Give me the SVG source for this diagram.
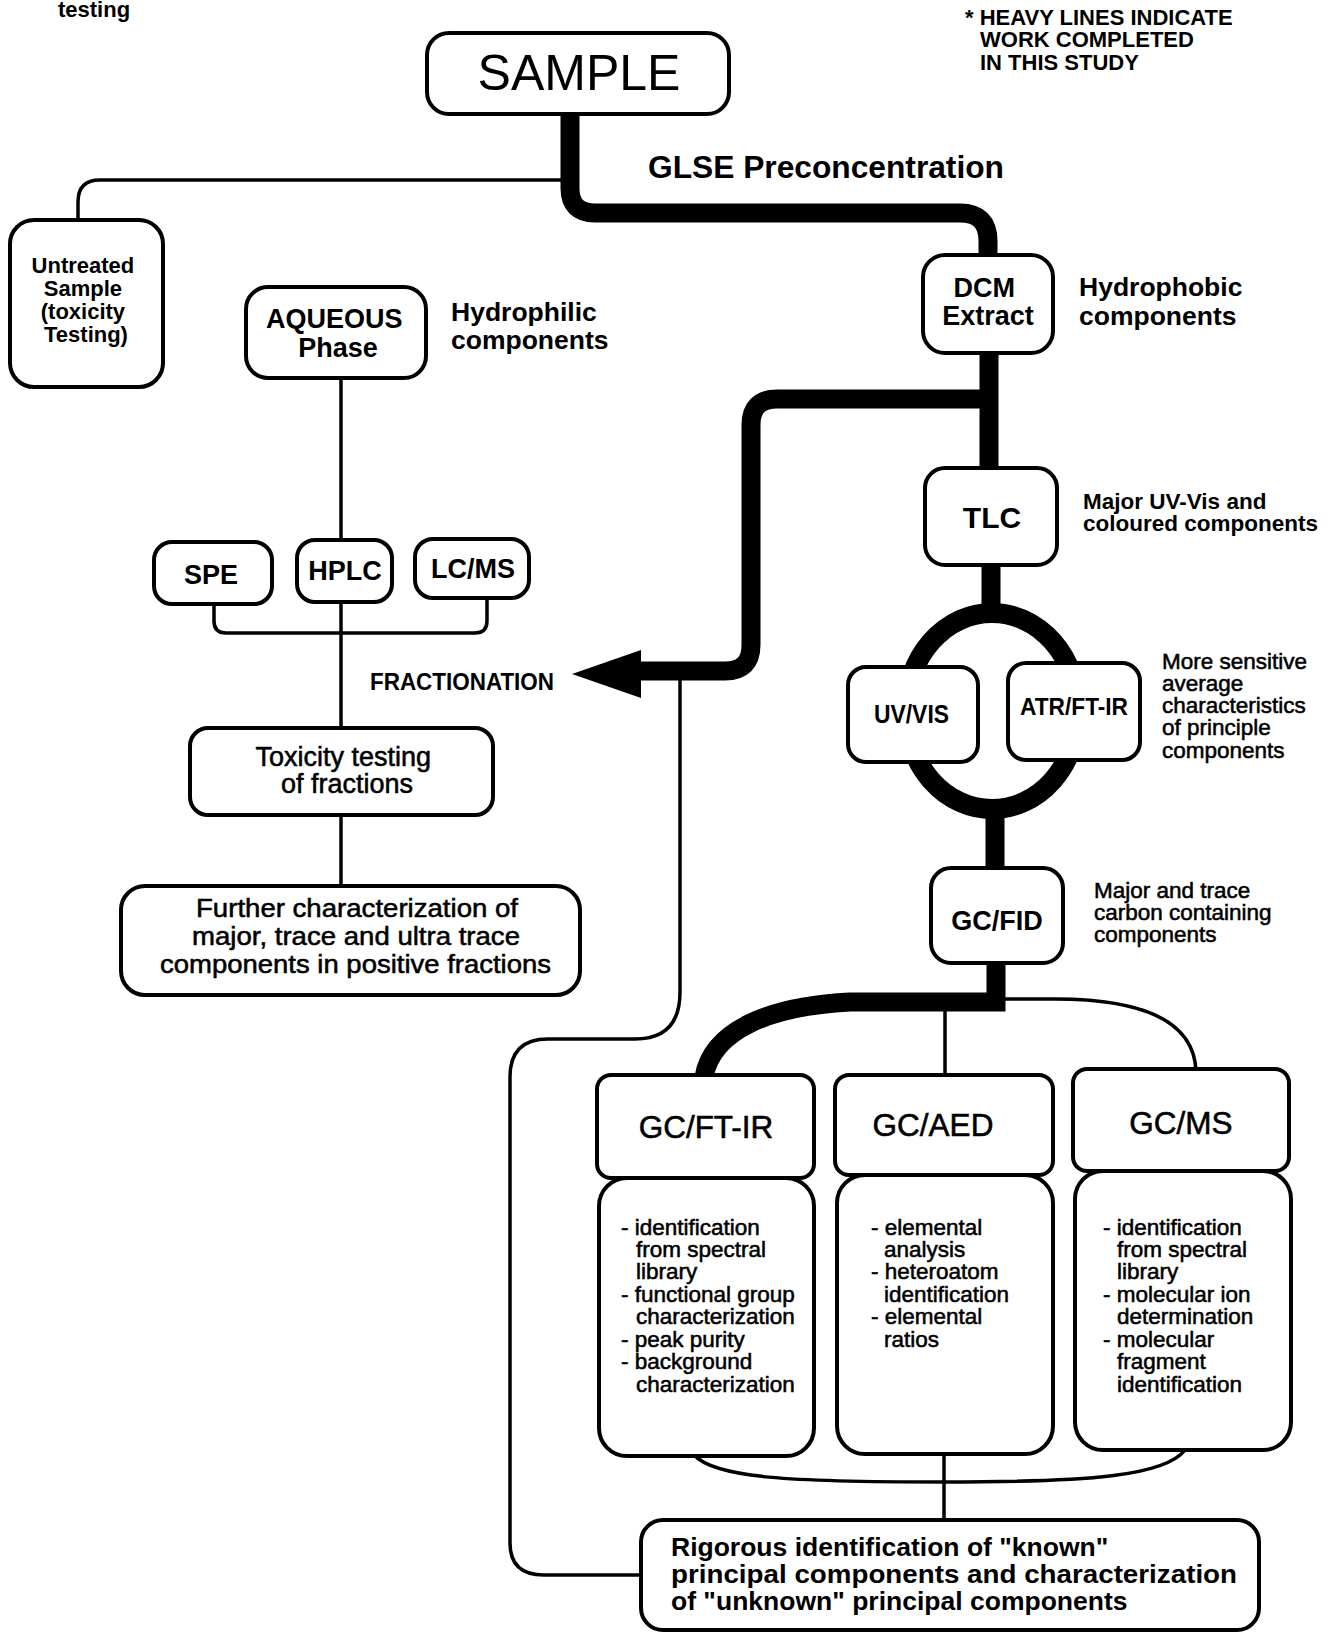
<svg xmlns="http://www.w3.org/2000/svg" width="1336" height="1634" viewBox="0 0 1336 1634">
<style>
text{font-family:"Liberation Sans",Arial,Helvetica,sans-serif;fill:#000}
.b{font-weight:bold}
.m{font-weight:normal;stroke:#000;stroke-width:0.55}
.box{fill:#fff;stroke:#000;stroke-width:4}
.thin{fill:none;stroke:#000;stroke-width:3.5}
.heavy{fill:none;stroke:#000;stroke-width:19}
.c{text-anchor:middle}
</style>
<rect width="1336" height="1634" fill="#fff"/>

<g id="connectors">
  <path class="heavy" d="M 570 110 V 188 Q 570 213 595 213 H 960 Q 988 213 988 241 V 258"/>
  <path class="thin" d="M 572 180 H 100 Q 78 180 78 202 V 222"/>
  <path class="heavy" d="M 989 350 V 472"/>
  <path class="heavy" d="M 990 399 H 777 Q 751 399 751 425 V 645 Q 751 671 725 671 H 632"/>
  <polygon points="572,674 641,650 641,698" fill="#000"/>
  <path class="thin" d="M 680 680 V 992 Q 680 1039 635 1039 H 548 Q 510 1039 510 1077 V 1543 Q 510 1575 544 1575 H 643"/>
  <path class="heavy" d="M 991 562 V 616"/>
  <ellipse cx="992" cy="711" rx="86" ry="98" fill="none" stroke="#000" stroke-width="20"/>
  <path class="heavy" d="M 995 806 V 870"/>
  <path class="heavy" style="stroke-linejoin:miter" d="M 996 962 V 1002 H 850 C 770 1006 712 1030 704 1077"/>
  <path class="thin" d="M 1004 999 H 1055 C 1145 999 1194 1022 1196 1071"/>
  <path class="thin" d="M 945 1010 V 1077"/>
  <path class="thin" d="M 341 376 V 542"/>
  <path class="thin" d="M 341 600 V 730"/>
  <path class="thin" d="M 341 813 V 888"/>
  <path class="thin" d="M 214 602 V 621 Q 214 633 226 633 H 475 Q 487 633 487 621 V 596"/>
  <path class="thin" d="M 694 1455 C 715 1478 790 1482 944 1482 C 1090 1482 1165 1476 1185 1450"/>
  <path class="thin" d="M 944 1452 V 1522"/>
</g>

<g id="labels">
  <text class="b" x="58" y="17" font-size="22">testing</text>
  <text class="b" font-size="22">
    <tspan x="965" y="25">* HEAVY LINES INDICATE</tspan>
    <tspan x="980" y="47">WORK COMPLETED</tspan>
    <tspan x="980" y="70">IN THIS STUDY</tspan>
  </text>
  <text class="b" x="648" y="178" font-size="31" textLength="356" lengthAdjust="spacingAndGlyphs">GLSE Preconcentration</text>
  <text class="b" font-size="26.5">
    <tspan x="451" y="321">Hydrophilic</tspan>
    <tspan x="451" y="349">components</tspan>
  </text>
  <text class="b" font-size="26.5">
    <tspan x="1079" y="296">Hydrophobic</tspan>
    <tspan x="1079" y="325">components</tspan>
  </text>
  <text class="b" font-size="22.5">
    <tspan x="1083" y="509">Major UV-Vis and</tspan>
    <tspan x="1083" y="531">coloured components</tspan>
  </text>
  <text class="m" font-size="22.5">
    <tspan x="1162" y="669">More sensitive</tspan>
    <tspan x="1162" y="691">average</tspan>
    <tspan x="1162" y="713">characteristics</tspan>
    <tspan x="1162" y="735">of principle</tspan>
    <tspan x="1162" y="758">components</tspan>
  </text>
  <text class="m" font-size="22.5">
    <tspan x="1094" y="898">Major and trace</tspan>
    <tspan x="1094" y="920">carbon containing</tspan>
    <tspan x="1094" y="942">components</tspan>
  </text>
  <text class="b" x="370" y="690" font-size="23" textLength="184" lengthAdjust="spacingAndGlyphs">FRACTIONATION</text>
</g>

<g id="sample">
  <rect class="box" x="427" y="33" width="302" height="81" rx="22"/>
  <text class="c" x="579" y="90" font-size="50">SAMPLE</text>
</g>
<g id="untreated">
  <rect class="box" x="10" y="220" width="153" height="167" rx="24"/>
  <text class="b c" font-size="22">
    <tspan x="86" y="273">Untreated</tspan>
    <tspan x="86" y="296">Sample</tspan>
    <tspan x="86" y="319">(toxicity</tspan>
    <tspan x="86" y="342">Testing)</tspan>
  </text>
</g>
<g id="aqueous">
  <rect class="box" x="246" y="287" width="180" height="91" rx="22"/>
  <text class="b c" font-size="27">
    <tspan x="338" y="328">AQUEOUS</tspan>
    <tspan x="338" y="357">Phase</tspan>
  </text>
</g>
<g id="dcm">
  <rect class="box" x="923" y="255" width="130" height="98" rx="22"/>
  <text class="b c" font-size="27">
    <tspan x="988" y="297">DCM</tspan>
    <tspan x="988" y="325">Extract</tspan>
  </text>
</g>
<g id="tlc">
  <rect class="box" x="925" y="468" width="132" height="97" rx="20"/>
  <text class="b c" x="992" y="528" font-size="30">TLC</text>
</g>
<g id="spe">
  <rect class="box" x="154" y="542" width="118" height="62" rx="18"/>
  <text class="b c" x="211" y="584" font-size="27">SPE</text>
</g>
<g id="hplc">
  <rect class="box" x="297" y="540" width="95" height="62" rx="18"/>
  <text class="b c" x="345" y="580" font-size="27">HPLC</text>
</g>
<g id="lcms">
  <rect class="box" x="415" y="539" width="114" height="59" rx="18"/>
  <text class="b c" x="473" y="578" font-size="27">LC/MS</text>
</g>
<g id="uvvis">
  <rect class="box" x="848" y="667" width="130" height="95" rx="18"/>
  <text class="b" x="874" y="723" font-size="25" textLength="75" lengthAdjust="spacingAndGlyphs">UV/VIS</text>
</g>
<g id="atr">
  <rect class="box" x="1008" y="663" width="132" height="97" rx="18"/>
  <text class="b" x="1020" y="715" font-size="24" textLength="108" lengthAdjust="spacingAndGlyphs">ATR/FT-IR</text>
</g>
<g id="toxicity">
  <rect class="box" x="190" y="728" width="303" height="87" rx="18"/>
  <text class="m c" font-size="27">
    <tspan x="347" y="766">Toxicity testing</tspan>
    <tspan x="347" y="793">of fractions</tspan>
  </text>
</g>
<g id="gcfid">
  <rect class="box" x="931" y="868" width="132" height="95" rx="20"/>
  <text class="b c" x="997" y="930" font-size="27">GC/FID</text>
</g>
<g id="further">
  <rect class="box" x="121" y="886" width="459" height="109" rx="24"/>
  <text class="m" font-size="26.5">
    <tspan x="196" y="917" textLength="322" lengthAdjust="spacingAndGlyphs">Further characterization of</tspan>
    <tspan x="192" y="945" textLength="328" lengthAdjust="spacingAndGlyphs">major, trace and ultra trace</tspan>
    <tspan x="160" y="973" textLength="391" lengthAdjust="spacingAndGlyphs">components in positive fractions</tspan>
  </text>
</g>
<g id="gcftir">
  <rect class="box" x="597" y="1075" width="217" height="103" rx="14"/>
  <text class="m c" x="706" y="1138" font-size="31.5">GC/FT-IR</text>
  <rect class="box" x="599" y="1178" width="215" height="278" rx="28"/>
  <text class="m" font-size="22.5">
    <tspan x="621" y="1235">- identification</tspan>
    <tspan x="636" y="1257">from spectral</tspan>
    <tspan x="636" y="1279">library</tspan>
    <tspan x="621" y="1302">- functional group</tspan>
    <tspan x="636" y="1324">characterization</tspan>
    <tspan x="621" y="1347">- peak purity</tspan>
    <tspan x="621" y="1369">- background</tspan>
    <tspan x="636" y="1392">characterization</tspan>
  </text>
</g>
<g id="gcaed">
  <rect class="box" x="835" y="1075" width="218" height="100" rx="14"/>
  <text class="m c" x="933" y="1136" font-size="31.5">GC/AED</text>
  <rect class="box" x="837" y="1175" width="216" height="279" rx="28"/>
  <text class="m" font-size="22.5">
    <tspan x="871" y="1235">- elemental</tspan>
    <tspan x="884" y="1257">analysis</tspan>
    <tspan x="871" y="1279">- heteroatom</tspan>
    <tspan x="884" y="1302">identification</tspan>
    <tspan x="871" y="1324">- elemental</tspan>
    <tspan x="884" y="1347">ratios</tspan>
  </text>
</g>
<g id="gcms">
  <rect class="box" x="1073" y="1069" width="216" height="102" rx="14"/>
  <text class="m c" x="1181" y="1134" font-size="31.5">GC/MS</text>
  <rect class="box" x="1075" y="1171" width="216" height="279" rx="28"/>
  <text class="m" font-size="22.5">
    <tspan x="1103" y="1235">- identification</tspan>
    <tspan x="1117" y="1257">from spectral</tspan>
    <tspan x="1117" y="1279">library</tspan>
    <tspan x="1103" y="1302">- molecular ion</tspan>
    <tspan x="1117" y="1324">determination</tspan>
    <tspan x="1103" y="1347">- molecular</tspan>
    <tspan x="1117" y="1369">fragment</tspan>
    <tspan x="1117" y="1392">identification</tspan>
  </text>
</g>
<g id="rigorous">
  <rect class="box" x="641" y="1520" width="618" height="110" rx="22"/>
  <text class="b" font-size="26.5">
    <tspan x="671" y="1556">Rigorous identification of "known"</tspan>
    <tspan x="671" y="1583" textLength="566" lengthAdjust="spacingAndGlyphs">principal components and characterization</tspan>
    <tspan x="671" y="1610">of "unknown" principal components</tspan>
  </text>
</g>
</svg>
